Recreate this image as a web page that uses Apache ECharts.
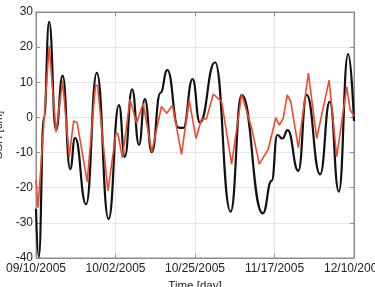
<!DOCTYPE html>
<html>
<head>
<meta charset="utf-8">
<script src="https://cdn.jsdelivr.net/npm/echarts@6/dist/echarts.min.js"></script>
<style>
  html, body { margin: 0; padding: 0; background: #fff; }
  #chart { width: 375px; height: 287px; }
</style>
</head>
<body>
<div id="chart"></div>
<script>
// tick labels along the time axis (every 23 days)
var dateLabels = ['09/10/2005', '10/02/2005', '10/25/2005', '11/17/2005', '12/10/2005'];

// black curve: day offset and SSH [cm]
var blackDays = [0, 0.8, 2.3, 3.8, 5.8, 7.7, 9.9, 11.3, 14.5, 17.6, 21, 24, 25.7, 27.8, 29.8, 31.5, 33.5, 36, 38, 41.2, 42.6, 45.3, 47.4, 51.8, 56.3, 59.5, 65.6, 68.2, 69.8, 71.3, 72.8, 75.9, 78.3, 82.2, 85, 87.6, 90.3, 92];
var blackSsh = [-26, -39.7, 0, 27.2, -3.6, 11.9, -14.7, -5.8, -24.7, 12.7, -28.9, 3.5, -11.2, 8.0, -7.8, 5.2, -9.9, 7, 13.5, -2.9, -3, 10.9, -1.4, 15.7, -26.8, 6.4, -27.3, -18, -5, -6, -3.6, -15.2, 6.4, -16.2, 4.5, -21.1, 18.0, -1];

// red curve: day offset and SSH [cm]
var redDays = [0, 0.6, 3.8, 5.8, 7.7, 9.6, 10.9, 11.9, 14.8, 17.2, 17.8, 20.8, 23.1, 23.7, 25, 27.2, 29.1, 31, 33.5, 36.3, 37.8, 39.5, 42.1, 44.3, 46.3, 47.9, 49.3, 51.3, 53.7, 56.6, 59.5, 62.4, 64.6, 67.2, 67.7, 69.4, 70.4, 71.5, 72.7, 73.7, 75.9, 78.8, 81.2, 84.8, 87, 89.9, 90.9, 92];
var redSsh = [-17.8, -25.7, 20.4, -4.2, 10.4, -11.2, -1.0, -1.5, -18.3, 9.2, 9.0, -20.9, -4.6, -4.6, -11.5, 5.2, -1.7, 4.0, -9.8, 3.1, 1.2, 3.5, -10.5, 5.0, -6, -0.4, -0.4, 6.6, 4.5, -13.3, 6.6, -3.1, -13.3, -9.0, -8.8, -0.1, -2.2, -0.3, 6.4, 4.5, -8.6, 12.6, -6, 10.6, -11.2, 8.7, 2.1, 0.4];

function zip(xs, ys) {
    return xs.map(function (x, i) { return [x, ys[i]]; });
}

var chart = echarts.init(document.getElementById('chart'));
var font = 'Liberation Sans, Arial, sans-serif';
var axisColor = '#8c8c8c';

chart.setOption({
    animation: false,
    grid: {left: 36, right: 21, top: 12, bottom: 29, outerBoundsMode: 'none', containLabel: false,
        show: true, borderColor: axisColor, borderWidth: 1},
    xAxis: [{
        type: 'value', min: 0, max: 92, interval: 23,
        name: 'Time [day]', nameLocation: 'middle', nameGap: 18,
        nameTextStyle: {color: '#222', fontSize: 11.5, fontFamily: font},
        axisLine: {show: true, onZero: false, lineStyle: {color: axisColor}},
        axisTick: {show: true, inside: true, length: 4, lineStyle: {color: axisColor}},
        axisLabel: {
            color: '#222', fontSize: 12, fontFamily: font, margin: 5,
            formatter: function (v) { return dateLabels[Math.round(v / 23)]; }
        },
        splitLine: {show: true, lineStyle: {color: '#e6e6e6'}}
    }, {
        type: 'value', min: 0, max: 92, interval: 23, position: 'top',
        axisLine: {show: true, onZero: false, lineStyle: {color: axisColor}},
        axisTick: {show: true, inside: true, length: 4, lineStyle: {color: axisColor}},
        axisLabel: {show: false}, splitLine: {show: false}
    }],
    yAxis: [{
        type: 'value', min: -40, max: 30, interval: 10,
        name: 'SSH [cm]', nameLocation: 'middle', nameGap: 20,
        nameTextStyle: {color: '#222', fontSize: 11.5, fontFamily: font},
        axisLine: {show: true, onZero: false, lineStyle: {color: axisColor}},
        axisTick: {show: true, inside: true, length: 4, lineStyle: {color: axisColor}},
        axisLabel: {color: '#222', fontSize: 12, fontFamily: font, margin: 3},
        splitLine: {show: true, lineStyle: {color: '#e6e6e6'}}
    }, {
        type: 'value', min: -40, max: 30, interval: 10, position: 'right',
        axisLine: {show: true, onZero: false, lineStyle: {color: axisColor}},
        axisTick: {show: true, inside: true, length: 4, lineStyle: {color: axisColor}},
        axisLabel: {show: false}, splitLine: {show: false}
    }],
    series: [{
        name: 'black',
        type: 'line',
        data: zip(blackDays, blackSsh),
        smooth: 0.5,
        smoothMonotone: 'x',
        showSymbol: false,
        lineStyle: {color: '#111', width: 2.2},
        z: 3
    }, {
        name: 'red',
        type: 'line',
        data: zip(redDays, redSsh),
        showSymbol: false,
        lineStyle: {color: '#ee4a2e', width: 1.6},
        z: 4
    }]
});
</script>
</body>
</html>
